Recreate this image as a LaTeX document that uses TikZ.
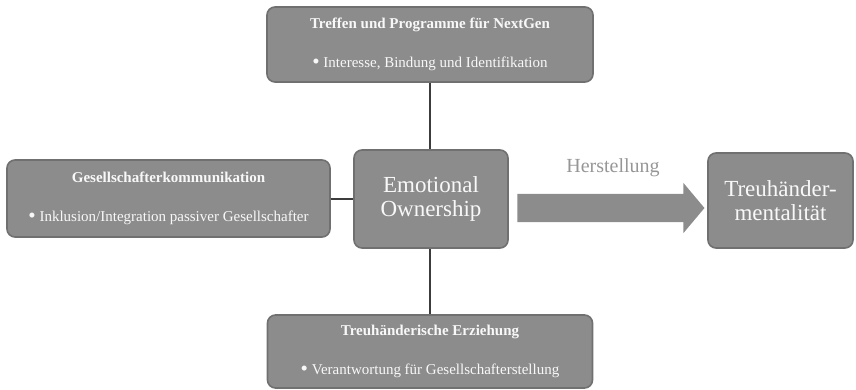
\documentclass[tikz,border=0pt]{standalone}
\usepackage{fontspec}
\setmainfont{Liberation Serif}
\usetikzlibrary{positioning, shapes.arrows}

\definecolor{boxgray}{RGB}{140,140,140}
\definecolor{boxline}{RGB}{112,112,112}
\definecolor{boxtext}{RGB}{248,248,248}
\definecolor{linkgray}{RGB}{60,60,60}
\definecolor{labgray}{RGB}{150,150,150}

\newcommand{\bigdot}{\raisebox{-1.2pt}{\fontsize{21}{18}\selectfont\textbullet}}

\begin{document}
\begin{tikzpicture}[
  x=1pt, y=-1pt,
  gbox/.style={rounded corners=8pt, fill=boxgray, draw=boxline, line width=1.6pt,
               align=center, text=boxtext, inner sep=2pt},
  sbox/.style={gbox, font=\fontsize{15}{18}\selectfont},
  cbox/.style={gbox, font=\fontsize{23}{24}\selectfont},
  link/.style={linkgray, line width=2pt},
]
  \useasboundingbox (0,0) rectangle (856,389);

  % centre and goal
  \node[cbox, minimum width=154pt, minimum height=98pt] (ctr) at (431,199) {Emotional\\Ownership};
  \node[cbox, minimum width=145pt, minimum height=95pt] (goal) at (780.5,200.5) {Treuhänder-\\mentalität};

  % the three measures
  \node[sbox, minimum width=326pt, minimum height=75pt] (nxg) at (430,44.5)
    {\textbf{Treffen und Programme für NextGen}\\[21pt]\bigdot\ Interesse, Bindung und Identifikation};
  \node[sbox, minimum width=323pt, minimum height=77pt] (kom) at (168.5,198.5)
    {\textbf{Gesellschafterkommunikation}\\[21pt]\bigdot\ Inklusion/Integration passiver Gesellschafter};
  \node[sbox, minimum width=325pt, minimum height=73pt] (erz) at (430,351.5)
    {\textbf{Treuhänderische Erziehung}\\[21pt]\bigdot\ Verantwortung für Gesellschafterstellung};

  % links to the centre
  \draw[link] (nxg.south) -- (nxg.south |- ctr.north);
  \draw[link] (erz.north) -- (erz.north |- ctr.south);
  \draw[link] (kom.east) -- (kom.east -| ctr.west);

  % block arrow
  \node[single arrow, fill=boxgray, inner sep=0pt, text height=28pt, text depth=0pt,
        minimum height=187pt, single arrow head extend=11pt, single arrow tip angle=100]
        (arr) at (605,208) {};
  \node[text=labgray, font=\fontsize{20}{20}\selectfont] (her) at (613,168) {Herstellung};
\end{tikzpicture}
\end{document}
